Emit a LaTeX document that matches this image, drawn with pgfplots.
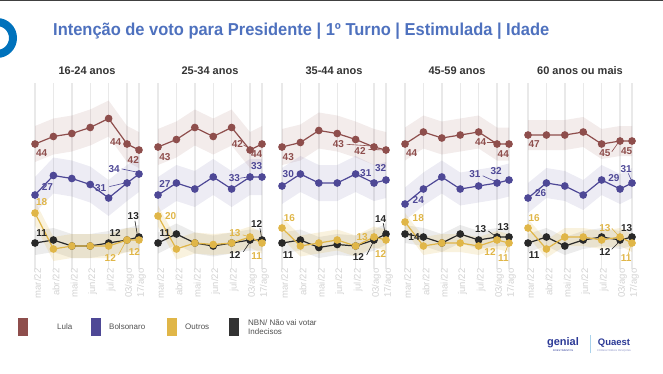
\documentclass[border=0pt]{standalone}
\usepackage{pgfplots}
\pgfplotsset{compat=1.18}
\usepgfplotslibrary{fillbetween}
\usepackage{pgfplotstable}
\usepackage{graphicx}
\usepackage{fontspec}
\setmainfont{Liberation Sans}
\definecolor{lula}{RGB}{142,78,76}
\definecolor{bolso}{RGB}{78,72,150}
\definecolor{outros}{RGB}{224,182,72}
\definecolor{nbn}{RGB}{40,40,40}
\definecolor{titleblue}{RGB}{78,113,190}
\definecolor{ticklab}{RGB}{210,210,210}
\definecolor{gridc}{RGB}{233,233,233}
\definecolor{ptitle}{RGB}{51,51,51}
\definecolor{legtext}{RGB}{80,80,80}
\definecolor{logoblue}{RGB}{43,57,150}

\pgfplotstableread{
x L Lh Ll B Bh Bl O Oh Ol N Nh Nl
0    44   50   38    27   33   21    21 25 17  11 15 7
1    46.5 52.5 40.5  33.5 39.5 27.5  9  13 5   12 16 8
2    47.5 53.5 41.5  32.5 38.5 26.5  10 14 6   10 14 6
3    49.5 55.5 43.5  30.5 36.5 24.5  10 14 6   10 14 6
4    52.5 58.5 46.5  26   32   20    10 14 6   11 15 7
5    44   50   38    31   37   25    12 16 8   12 16 8
5.65 42   48   36    34   40   28    12 16 8   13 17 9
}\pA
\pgfplotstableread{
x L Lh Ll B Bh Bl O Oh Ol N Nh Nl
0    43   49   37    27 33 21  20   23.5 16.5  11 14.5 7.5
1    45.5 51.5 39.5  31 37 25  9    12.5 5.5   14 17.5 10.5
2    49.5 55.5 43.5  29 35 23  11   14.5 7.5   11 14.5 7.5
3    46.5 52.5 40.5  33 39 27  10.5 14   7     10 13.5 6.5
4    49.5 55.5 43.5  29 35 23  11   14.5 7.5   11 14.5 7.5
5    42   48   36    33 39 27  13   16.5 9.5   12 15.5 8.5
5.65 44   50   38    33 39 27  11   14.5 7.5   12 15.5 8.5
}\pB
\pgfplotstableread{
x L Lh Ll B Bh Bl O Oh Ol N Nh Nl
0    43   49   37    30 36 24  16 19.5 12.5  11   14.5 7.5
1    44.5 50.5 38.5  34 40 28  10 13.5 6.5   12   15.5 8.5
2    48.5 54.5 42.5  31 37 25  11 14.5 7.5   9.5  13   6
3    47.5 53.5 41.5  31 37 25  12 15.5 8.5   10.5 14   7
4    45.5 51.5 39.5  34 40 28  10 13.5 6.5   10   13.5 6.5
5    43   49   37    31 37 25  13 16.5 9.5   12   15.5 8.5
5.65 42   48   36    32 38 26  12 15.5 8.5   14   17.5 10.5
}\pC
\pgfplotstableread{
x L Lh Ll B Bh Bl O Oh Ol N Nh Nl
0    44 49.5 38.5  24 29.5 18.5  18 21 15  14 17 11
1    48 53.5 42.5  29 34.5 23.5  10 13 7   13 16 10
2    46 51.5 40.5  33 38.5 27.5  11 14 8   11 14 8
3    47 52.5 41.5  29 34.5 23.5  11 14 8   14 17 11
4    48 53.5 42.5  30 35.5 24.5  10 13 7   12 15 9
5    44 49.5 38.5  31 36.5 25.5  12 15 9   13 16 10
5.65 44 49.5 38.5  32 37.5 26.5  11 14 8   13 16 10
}\pD
\pgfplotstableread{
x L Lh Ll B Bh Bl O Oh Ol N Nh Nl
0    47 52 42  26 31 21  16 19 13  11 14 8
1    47 52 42  31 36 26  9  12 6   13 16 10
2    47 52 42  30 35 25  13 16 10  10 13 7
3    48 53 43  27 32 22  13 16 10  12 15 9
4    44 49 39  32 37 27  12 15 9   13 16 10
5    45 50 40  29 34 24  13 16 10  12 15 9
5.65 45 50 40  31 36 26  11 14 8   13 16 10
}\pE

\pgfplotsset{
 panel/.style={scale only axis, width=104pt, height=186pt,
   xmin=0, xmax=5.65, ymin=2.5, ymax=64.5, anchor=south west, clip=false,
   axis line style={draw=none}, ytick=\empty,
   xtick={0,1,2,3,4,5,5.65},
   xticklabels={mar/22,abr/22,mai/22,jun/22,jul/22,03/ago,17/ago},
   xticklabel style={rotate=90, anchor=east, text=ticklab,
     font=\fontsize{9.5}{9.5}\selectfont, inner sep=0pt, yshift=-2.5pt},
   major tick length=0pt, xmajorgrids,
   grid style={gridc, line width=1.4pt}},
 ln/.style={line width=1.2pt, mark=*, mark size=3.2pt},
}
\tikzset{lab/.style={font=\bfseries\fontsize{10}{10}\selectfont, inner sep=0pt},
  ldr/.style={line width=0.6pt}}

\newcommand{\band}[6]{%
  \addplot[draw=none, name path=#5a#2, forget plot] table[x=x,y=#2]{#1};
  \addplot[draw=none, name path=#5b#2, forget plot] table[x=x,y=#3]{#1};
  \addplot[fill=#4, fill opacity=#6, draw=none, forget plot] fill between[of=#5a#2 and #5b#2];
}
\newcommand{\allbands}[2]{%
  \band{#1}{Lh}{Ll}{lula}{#2}{0.11}
  \band{#1}{Bh}{Bl}{bolso}{#2}{0.1}
  \band{#1}{Nh}{Nl}{nbn}{#2}{0.09}
  \band{#1}{Oh}{Ol}{outros}{#2}{0.18}
}
\newcommand{\alllines}[1]{%
  \addplot[ln, lula] table[x=x,y=L]{#1};
  \addplot[ln, bolso] table[x=x,y=B]{#1};
  \addplot[ln, nbn] table[x=x,y=N]{#1};
  \addplot[ln, outros] table[x=x,y=O]{#1};
}
\newcommand{\ptitle}[1]{\node[anchor=base, font=\bfseries\fontsize{11}{11}\selectfont, text=ptitle] at (rel axis cs:0.5,1) [yshift=8.5pt] {#1};}

\begin{document}
\begin{tikzpicture}
\path (0pt,0pt) rectangle (663pt,373pt);
\fill[black!75] (0pt,371.8pt) rectangle (663pt,373pt);
\draw[overlay, color={rgb,255:red,0;green,114;blue,188}, line width=8pt] (-3pt,335pt) circle (16pt);
\node[text=titleblue, anchor=west, inner sep=0pt] at (53pt,342pt) {\resizebox{496pt}{12.5pt}{\bfseries\fontsize{17}{17}\selectfont Intenção de voto para Presidente | 1º Turno | Estimulada | Idade}};

% Panel 1
\begin{axis}[panel, at={(35pt,104.5pt)}]
\allbands{\pA}{p1}
\alllines{\pA}
\ptitle{16-24 anos}
\node[lab, text=lula] at (axis cs:0.36,40.9) {44};
\node[lab, text=lula] at (axis cs:4.38,44.6) {44};
\node[lab, text=lula] at (axis cs:5.34,38.7) {42};
\node[lab, text=bolso] at (axis cs:0.67,29.8) {27};
\node[lab, text=bolso] at (axis cs:3.57,29.4) {31};
\draw[ldr, bolso] (axis cs:4.04,29.8) -- (axis cs:4.95,31.1);
\node[lab, text=bolso] at (axis cs:4.3,35.7) {34};
\draw[ldr, bolso] (axis cs:4.71,35.7) -- (axis cs:5.56,34.6);
\node[lab, text=outros] at (axis cs:0.36,24.6) {18};
\node[lab, text=outros] at (axis cs:4.09,6.1) {12};
\draw[ldr, outros] (axis cs:4.53,7) -- (axis cs:4.95,11.7);
\node[lab, text=outros] at (axis cs:5.4,8.1) {12};
\node[lab, text=nbn] at (axis cs:0.36,14.2) {11};
\node[lab, text=nbn] at (axis cs:4.35,14.2) {12};
\node[lab, text=nbn] at (axis cs:5.34,20.1) {13};
\draw[ldr, nbn] (axis cs:5.43,18.4) -- (axis cs:5.56,13.7);
\end{axis}

% Panel 2
\begin{axis}[panel, at={(158pt,104.5pt)}]
\allbands{\pB}{p2}
\alllines{\pB}
\ptitle{25-34 anos}
\node[lab, text=lula] at (axis cs:0.38,39.8) {43};
\node[lab, text=lula] at (axis cs:4.31,43.9) {42};
\draw[ldr, lula] (axis cs:4.64,43.7) -- (axis cs:4.96,42.6);
\node[lab, text=lula] at (axis cs:5.36,40.8) {44};
\node[lab, text=bolso] at (axis cs:0.38,30.6) {27};
\node[lab, text=bolso] at (axis cs:4.15,32.8) {33};
\draw[ldr, bolso] (axis cs:4.46,32.6) -- (axis cs:4.96,33.1);
\node[lab, text=bolso] at (axis cs:5.36,36.8) {33};
\node[lab, text=outros] at (axis cs:0.69,20.1) {20};
\node[lab, text=outros] at (axis cs:4.18,14.2) {13};
\draw[ldr, outros] (axis cs:4.6,13.7) -- (axis cs:4.96,13.1);
\node[lab, text=outros] at (axis cs:5.36,6.8) {11};
\node[lab, text=nbn] at (axis cs:0.38,14.2) {11};
\node[lab, text=nbn] at (axis cs:4.18,7) {12};
\draw[ldr, nbn] (axis cs:4.64,8.1) -- (axis cs:5.0,11.4);
\node[lab, text=nbn] at (axis cs:5.36,17.2) {12};
\draw[ldr, nbn] (axis cs:5.54,15.9) -- (axis cs:5.63,12.6);
\end{axis}

% Panel 3
\begin{axis}[panel, at={(282pt,104.5pt)}]
\allbands{\pC}{p3}
\alllines{\pC}
\ptitle{35-44 anos}
\node[lab, text=lula] at (axis cs:0.34,39.8) {43};
\node[lab, text=lula] at (axis cs:3.06,43.9) {43};
\draw[ldr, lula] (axis cs:3.51,43.9) -- (axis cs:4.96,43.3);
\node[lab, text=lula] at (axis cs:4.24,41.8) {42};
\draw[ldr, lula] (axis cs:4.69,42.2) -- (axis cs:5.6,42);
\node[lab, text=bolso] at (axis cs:0.34,33.9) {30};
\node[lab, text=bolso] at (axis cs:4.55,34.2) {31};
\node[lab, text=bolso] at (axis cs:5.36,35.9) {32};
\node[lab, text=outros] at (axis cs:0.4,19.2) {16};
\node[lab, text=outros] at (axis cs:4.35,13.1) {13};
\node[lab, text=outros] at (axis cs:5.36,7.2) {12};
\node[lab, text=nbn] at (axis cs:0.34,7) {11};
\node[lab, text=nbn] at (axis cs:4.15,6.4) {12};
\draw[ldr, nbn] (axis cs:4.6,7) -- (axis cs:4.96,11.4);
\node[lab, text=nbn] at (axis cs:5.36,19) {14};
\draw[ldr, nbn] (axis cs:5.5,17.6) -- (axis cs:5.6,14.2);
\end{axis}

% Panel 4
\begin{axis}[panel, at={(405pt,104.5pt)}]
\allbands{\pD}{p4}
\alllines{\pD}
\ptitle{45-59 anos}
\node[lab, text=lula] at (axis cs:0.36,40.9) {44};
\node[lab, text=lula] at (axis cs:4.11,44.8) {44};
\draw[ldr, lula] (axis cs:4.44,44.6) -- (axis cs:4.95,44.6);
\node[lab, text=lula] at (axis cs:5.34,40.6) {44};
\node[lab, text=bolso] at (axis cs:0.72,25.3) {24};
\node[lab, text=bolso] at (axis cs:3.8,34) {31};
\draw[ldr, bolso] (axis cs:4.22,33.4) -- (axis cs:4.95,31.4);
\node[lab, text=bolso] at (axis cs:4.95,35) {32};
\node[lab, text=outros] at (axis cs:0.72,19.4) {18};
\node[lab, text=outros] at (axis cs:4.62,8.1) {12};
\node[lab, text=outros] at (axis cs:5.34,5.9) {11};
\draw[ldr, outros] (axis cs:5.43,7.6) -- (axis cs:5.62,10.7);
\node[lab, text=nbn] at (axis cs:0.49,13.1) {14};
\node[lab, text=nbn] at (axis cs:4.11,15.7) {13};
\draw[ldr, nbn] (axis cs:4.53,15) -- (axis cs:4.95,13.1);
\node[lab, text=nbn] at (axis cs:5.34,16.4) {13};
\end{axis}

% Panel 5
\begin{axis}[panel, at={(528pt,104.5pt)}]
\allbands{\pE}{p5}
\alllines{\pE}
\ptitle{60 anos ou mais}
\node[lab, text=lula] at (axis cs:0.33,43.9) {47};
\node[lab, text=lula] at (axis cs:4.18,40.8) {45};
\draw[ldr, lula] (axis cs:4.55,41.4) -- (axis cs:5.0,45.3);
\node[lab, text=lula] at (axis cs:5.36,41.7) {45};
\node[lab, text=bolso] at (axis cs:0.69,27.6) {26};
\node[lab, text=bolso] at (axis cs:4.67,32.6) {29};
\node[lab, text=bolso] at (axis cs:5.33,35.7) {31};
\draw[ldr, bolso] (axis cs:5.45,34.2) -- (axis cs:5.63,31.7);
\node[lab, text=outros] at (axis cs:0.33,19.2) {16};
\node[lab, text=outros] at (axis cs:4.18,16.1) {13};
\draw[ldr, outros] (axis cs:4.55,15.9) -- (axis cs:4.96,13.1);
\node[lab, text=outros] at (axis cs:5.33,5.9) {11};
\draw[ldr, outros] (axis cs:5.45,7.3) -- (axis cs:5.58,10.3);
\node[lab, text=nbn] at (axis cs:0.33,7) {11};
\node[lab, text=nbn] at (axis cs:4.18,8.1) {12};
\draw[ldr, nbn] (axis cs:4.55,8.9) -- (axis cs:5.0,11.7);
\node[lab, text=nbn] at (axis cs:5.36,16.1) {13};
\end{axis}

% Legend
\fill[lula] (18pt,37pt) rectangle (28pt,55pt);
\node[anchor=west, text=legtext, font=\fontsize{8}{9.5}\selectfont, inner sep=0pt] at (57pt,46pt) {Lula};
\fill[bolso] (91pt,37pt) rectangle (101pt,55pt);
\node[anchor=west, text=legtext, font=\fontsize{8}{9.5}\selectfont, inner sep=0pt] at (109pt,46pt) {Bolsonaro};
\fill[outros] (167pt,37pt) rectangle (177pt,55pt);
\node[anchor=west, text=legtext, font=\fontsize{8}{9.5}\selectfont, inner sep=0pt] at (185pt,46pt) {Outros};
\fill[nbn!95] (229pt,37pt) rectangle (239pt,55pt);
\node[anchor=west, text=legtext, font=\fontsize{8}{9}\selectfont, inner sep=0pt, align=left] at (248pt,46pt) {NBN/ Não vai votar\\Indecisos};

% Logos
\node[text=logoblue, font=\bfseries\fontsize{11}{11}\selectfont] at (563pt,30pt) {genial};
\node[text=logoblue, font=\fontsize{2.5}{2.5}\selectfont] at (563pt,22pt) {INVESTIMENTOS};
\draw[color={rgb,255:red,170;green,210;blue,235}, line width=0.6pt] (590pt,20pt) -- (590pt,38pt);
\node[text=logoblue, font=\bfseries\fontsize{9.5}{9.5}\selectfont] at (614pt,30pt) {Quaest};
\node[text=logoblue!60, font=\fontsize{2.5}{2.5}\selectfont] at (614pt,22pt) {CONSULTORIA E PESQUISA};
\end{tikzpicture}
\end{document}
